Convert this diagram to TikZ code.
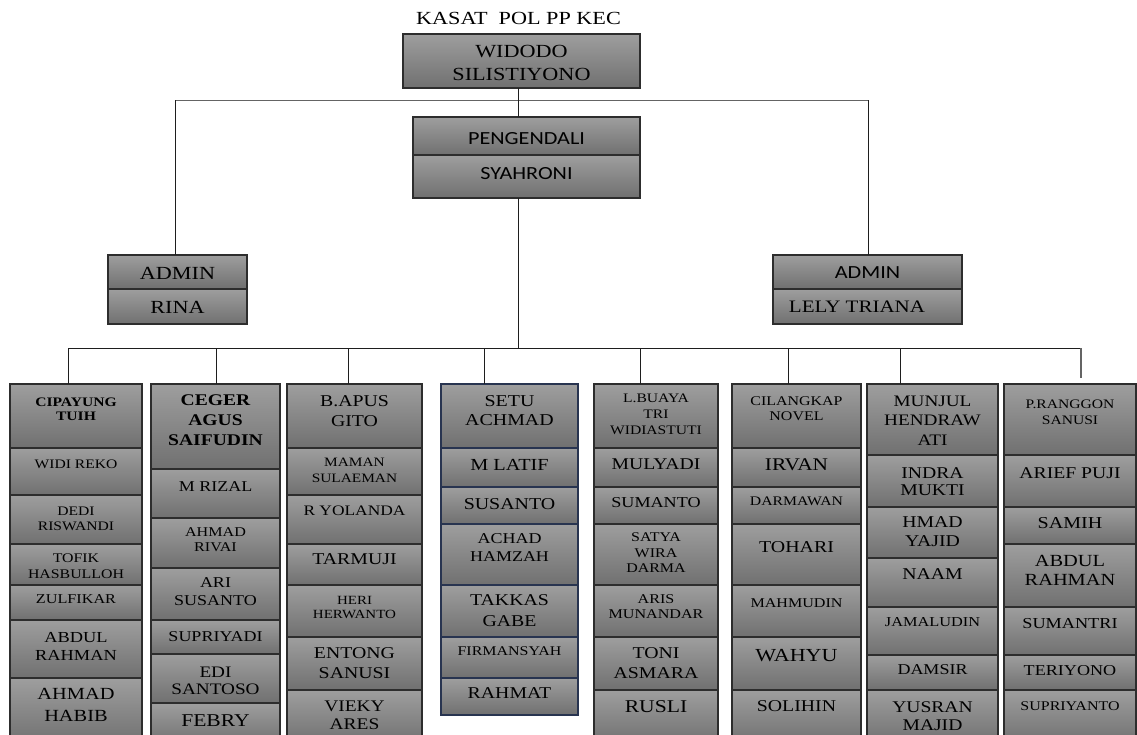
\documentclass[tikz,border=0pt]{standalone}
\usepackage{fontspec}
\setmainfont[FakeStretch=1.2]{Liberation Serif}
\newfontfamily\carl[FakeStretch=1.2]{Carlito}
\definecolor{cTop}{RGB}{158,158,158}
\definecolor{cBot}{RGB}{112,112,112}
\definecolor{cEdge}{RGB}{45,45,45}
\definecolor{cNavy}{RGB}{40,52,80}
\definecolor{cLine}{RGB}{30,30,30}
\definecolor{cGrayLine}{RGB}{100,100,100}
\tikzset{
  cellbox/.style={draw=cEdge, line width=1.1pt, top color=cTop, bottom color=cBot,
    inner sep=0pt, outer sep=0pt, rectangle},
  navybox/.style={draw=cNavy},
  celltext/.style={anchor=north, inner sep=0pt, outer sep=0pt, align=center, text=black},
  conn/.style={draw=cLine, line width=0.9pt},
}
\newcommand\mkcell[8][]{%
  \node[cellbox,#1,minimum width={(\colR-\colL)*1pt},minimum height={(#4-#3)*1pt}]
    (#2) at ({(\colL+\colR)/2},{(#3+#4)/2}) {};
  \node[celltext,font={\fontsize{#6}{#7}\selectfont}] (#2-t) at ({(\colL+\colR)/2},#5) {#8};
}
\begin{document}
\begin{tikzpicture}[x=1pt,y=-1pt]
\useasboundingbox (0,0) rectangle (1137,734);
\fill[white] (0,0) rectangle (1137,734);
\clip (0,0) rectangle (1137,734);

% title
\node[celltext,font={\fontsize{18.5}{22}\selectfont}] (title) at (518.5,12) {KASAT\ \ POL PP KEC};

% top boxes
\def\colL{403}\def\colR{640}
\mkcell{widodo}{34}{88}{45}{18.5}{23}{WIDODO\\SILISTIYONO}
\def\colL{413}\def\colR{640}
\mkcell{peng}{117}{155}{132}{18.5}{22}{\carl PENGENDALI}
\mkcell{syah}{155}{198}{167}{18.5}{22}{\carl SYAHRONI}
\def\colL{108}\def\colR{247}
\mkcell{adminL}{255}{289}{267}{18.5}{22}{ADMIN}
\mkcell{rina}{289}{324}{301}{18.5}{22}{RINA}
\def\colL{773}\def\colR{962}
\mkcell{adminR}{255}{289}{267}{18.5}{22}{\carl ADMIN}
\node[cellbox,minimum width=189pt,minimum height=35pt] (lely) at (867.5,306.5) {};
\node[celltext,font={\fontsize{17.5}{22}\selectfont}] (lely-t) at (857,301) {LELY TRIANA};

% column 1
\def\colL{10}\def\colR{142}
\mkcell{c11}{384}{448}{398}{13}{13.5}{\bfseries CIPAYUNG\\\bfseries TUIH}
\mkcell{c12}{448}{495}{460}{13}{15}{WIDI REKO}
\mkcell{c13}{495}{544}{507}{13}{15}{DEDI\\RISWANDI}
\mkcell{c14}{544}{585}{554}{13.2}{16}{TOFIK\\HASBULLOH}
\mkcell{c15}{585}{620}{595}{13.5}{16}{ZULFIKAR}
\mkcell{c16}{620}{678}{632}{15.3}{18}{ABDUL\\RAHMAN}
\mkcell{c17}{678}{745}{688}{17}{22}{AHMAD\\HABIB}
% column 2
\def\colL{151}\def\colR{280}
\mkcell{c21}{384}{469}{395}{16.3}{20}{\bfseries CEGER\\\bfseries AGUS\\\bfseries SAIFUDIN}
\mkcell{c22}{469}{518}{482}{15}{18}{M RIZAL}
\mkcell{c23}{518}{568}{528}{13.4}{15}{AHMAD\\RIVAI}
\mkcell{c24}{568}{620}{578}{15}{18}{ARI\\SUSANTO}
\mkcell{c25}{620}{654}{632}{15}{18}{SUPRIYADI}
\mkcell{c26}{654}{703}{667}{16}{17.5}{EDI\\SANTOSO}
\mkcell{c27}{703}{745}{715}{18}{21}{FEBRY}
% column 3
\def\colL{287}\def\colR{422}
\mkcell{c31}{384}{448}{396}{16.5}{20}{B.APUS\\GITO}
\mkcell{c32}{448}{495}{458}{12.8}{16}{MAMAN\\SULAEMAN}
\mkcell{c33}{495}{544}{506}{14.5}{17}{R YOLANDA}
\mkcell{c34}{544}{585}{554}{16.5}{19}{TARMUJI}
\mkcell{c35}{585}{637}{596}{12.5}{14}{HERI\\HERWANTO}
\mkcell{c36}{637}{690}{648}{16.5}{20}{ENTONG\\SANUSI}
\mkcell{c37}{690}{745}{701}{16.2}{18}{VIEKY\\ARES}
% column 4
\def\colL{441}\def\colR{578}
\mkcell[navybox]{c41}{384}{448}{396}{16.6}{19}{SETU\\ACHMAD}
\mkcell[navybox]{c42}{448}{487}{459}{16.9}{20}{M LATIF}
\mkcell[navybox]{c43}{487}{524}{498}{16.6}{20}{SUSANTO}
\mkcell[navybox]{c44}{524}{585}{534}{15}{18}{ACHAD\\HAMZAH}
\mkcell[navybox]{c45}{585}{637}{595}{16.5}{21}{TAKKAS\\GABE}
\mkcell[navybox]{c46}{637}{678}{647}{13.3}{16}{FIRMANSYAH}
\mkcell[navybox]{c47}{678}{715}{688}{16.5}{20}{RAHMAT}
% column 5
\def\colL{594}\def\colR{718}
\mkcell{c51}{384}{448}{394}{13}{16}{L.BUAYA\\TRI\\WIDIASTUTI}
\mkcell{c52}{448}{487}{459}{16.4}{20}{MULYADI}
\mkcell{c53}{487}{524}{497}{15.1}{18}{SUMANTO}
\mkcell{c54}{524}{585}{533}{13.3}{15.5}{SATYA\\WIRA\\DARMA}
\mkcell{c55}{585}{637}{595}{13.4}{15}{ARIS\\MUNANDAR}
\mkcell{c56}{637}{690}{648}{16.5}{20}{TONI\\ASMARA}
\mkcell{c57}{690}{745}{701}{18}{21}{RUSLI}
% column 6
\def\colL{732}\def\colR{861}
\mkcell{c61}{384}{448}{397}{13.3}{15}{CILANGKAP\\NOVEL}
\mkcell{c62}{448}{487}{459}{17.8}{21}{IRVAN}
\mkcell{c63}{487}{524}{497}{13.1}{16}{DARMAWAN}
\mkcell{c64}{524}{585}{541}{16.6}{20}{TOHARI}
\mkcell{c65}{585}{637}{599}{13.4}{16}{MAHMUDIN}
\mkcell{c66}{637}{690}{649}{18.4}{22}{WAHYU}
\mkcell{c67}{690}{745}{701}{16.5}{20}{SOLIHIN}
% column 7
\def\colL{867}\def\colR{998}
\mkcell{c71}{384}{455}{396}{16}{19.5}{MUNJUL\\HENDRAW\\ATI}
\mkcell{c72}{455}{507}{468}{16.4}{17}{INDRA\\MUKTI}
\mkcell{c73}{507}{558}{517}{16.5}{19}{HMAD\\YAJID}
\mkcell{c74}{558}{607}{569}{16.5}{20}{NAAM}
\mkcell{c75}{607}{655}{618}{13.6}{16}{JAMALUDIN}
\mkcell{c76}{655}{690}{665}{15}{18}{DAMSIR}
\mkcell{c77}{690}{745}{702}{16.3}{18}{YUSRAN\\MAJID}
% column 8
\def\colL{1004}\def\colR{1136}
\mkcell{c81}{384}{455}{400}{13}{16}{P.RANGGON\\SANUSI}
\mkcell{c82}{455}{507}{468}{16.4}{20}{ARIEF PUJI}
\mkcell{c83}{507}{544}{517}{16.7}{20}{SAMIH}
\mkcell{c84}{544}{607}{555}{17}{19}{ABDUL\\RAHMAN}
\mkcell{c85}{607}{655}{618}{15.2}{18}{SUMANTRI}
\mkcell{c86}{655}{690}{665}{15.1}{18}{TERIYONO}
\mkcell{c87}{690}{745}{702}{13.3}{16}{SUPRIYANTO}

% connectors
\coordinate (j1) at (518,100);
\coordinate (h1L) at (175,100);
\coordinate (h1R) at (868,100);
\coordinate (h2L) at (68,348);
\coordinate (h2R) at (1081,348);
\coordinate (j2) at (518,348);
\draw[draw=cGrayLine,line width=0.9pt] (h1L) -- (h1R);
\draw[conn] (j1 |- widodo.south) -- (j1 |- peng.north);
\draw[conn] (h1L) -- (h1L |- adminL.north);
\draw[conn] (h1R) -- (h1R |- adminR.north);
\draw[conn] (j1 |- syah.south) -- (j2);
\draw[conn] (h2L) -- (h2R);
\coordinate (d1) at (68,348);
\coordinate (d2) at (216,348);
\coordinate (d3) at (348,348);
\coordinate (d4) at (484,348);
\coordinate (d5) at (640,348);
\coordinate (d6) at (788,348);
\coordinate (d7) at (900,348);
\coordinate (d8) at (1081,348);
\foreach \k in {1,...,7} {\draw[conn] (d\k) -- (d\k |- c\k1.north);}
\draw[draw=cGrayLine,line width=1.6pt,shorten >=6pt] (d8) -- (d8 |- c81.north);
\end{tikzpicture}
\end{document}
